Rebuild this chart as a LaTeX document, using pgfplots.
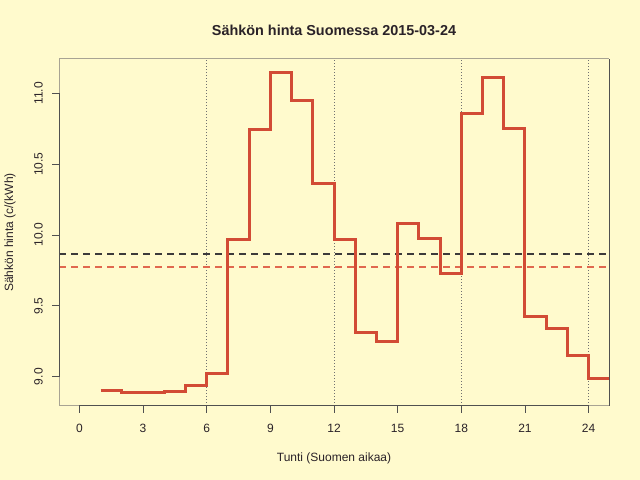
\documentclass[border=0pt]{standalone}
\usepackage{fontspec}
\setmainfont{Liberation Sans}
\usepackage{pgfplots}
\pgfplotsset{compat=1.18}
\definecolor{bg}{HTML}{FFFACD}
\definecolor{stepred}{HTML}{D24B35}
\definecolor{meanred}{HTML}{E0684F}
\definecolor{darkdash}{HTML}{3C3A3A}
\definecolor{axisdark}{HTML}{505050}
\definecolor{axislight}{HTML}{A8A393}
\definecolor{dotgray}{HTML}{707070}
\definecolor{txt}{HTML}{2A2228}
\begin{document}
\begin{tikzpicture}[x=1bp,y=1bp]
\fill[bg] (0,0) rectangle (640,480);
\useasboundingbox (0,0) rectangle (640,480);
\begin{axis}[
  at={(59bp,74bp)}, anchor=south west,
  width=550bp, height=347bp, scale only axis,
  xmin=-0.96, xmax=24.96, ymin=8.793, ymax=11.242,
  clip=false,
  axis line style={draw=none},
  xtick={0,3,6,9,12,15,18,21,24},
  xticklabels={0,3,6,9,12,15,18,21,24},
  ytick={9,9.5,10,10.5,11},
  yticklabels={9.0,9.5,10.0,10.5,11.0},
  tick pos=left, tick align=outside,
  major tick length=7bp,
  every tick/.style={axisdark, line width=0.8bp},
  /pgf/number format/assume math mode=true,
  tick label style={font=\fontsize{12bp}{14bp}\selectfont, text=txt},
  xticklabel style={anchor=north, inner sep=0pt, yshift=-11bp},
  yticklabel style={rotate=90, anchor=south, inner sep=0pt, yshift=9bp},
]
\addplot[dotgray, line width=0.8bp, dash pattern=on 1bp off 2bp] coordinates {(6,8.793) (6,11.242)};
\addplot[dotgray, line width=0.8bp, dash pattern=on 1bp off 2bp] coordinates {(12,8.793) (12,11.242)};
\addplot[dotgray, line width=0.8bp, dash pattern=on 1bp off 2bp] coordinates {(18,8.793) (18,11.242)};
\addplot[dotgray, line width=0.8bp, dash pattern=on 1bp off 2bp] coordinates {(24,8.793) (24,11.242)};
\addplot[darkdash, line width=2bp, dash pattern=on 7bp off 5bp] coordinates {(-0.96,9.866) (24.85,9.866)};
\addplot[meanred, line width=2bp, dash pattern=on 7bp off 5bp] coordinates {(-0.96,9.776) (24.85,9.776)};
\addplot[const plot, stepred, line width=3bp] coordinates {
(1,8.901) (2,8.885) (3,8.887) (4,8.896) (5,8.939) (6,9.024)
(7,9.970) (8,10.741) (9,11.150) (10,10.951) (11,10.365) (12,9.967)
(13,9.311) (14,9.245) (15,10.083) (16,9.974) (17,9.730) (18,10.854)
(19,11.113) (20,10.748) (21,9.424) (22,9.339) (23,9.151) (24,8.984)
(25,8.984)};
\draw[axislight, line width=1bp] (rel axis cs:0,1) -- (rel axis cs:1,1);
\draw[axislight, line width=1bp] (rel axis cs:0,0) -- (rel axis cs:0,1);
\draw[axislight, line width=1bp] (rel axis cs:0,0) -- (rel axis cs:1,0);
\draw[axisdark, line width=1bp] (rel axis cs:1,0) -- (rel axis cs:1,1);
\draw[axisdark, line width=1bp] (axis cs:-0.96,9) -- (axis cs:-0.96,11);
\draw[axisdark, line width=1bp] (axis cs:0,8.793) -- (axis cs:24,8.793);
\end{axis}
\node[text=txt, font=\bfseries\fontsize{14.4bp}{16bp}\selectfont] at (334,450) {Sähkön hinta Suomessa 2015-03-24};
\node[text=txt, font=\fontsize{12bp}{14bp}\selectfont] at (334,22) {Tunti (Suomen aikaa)};
\node[text=txt, rotate=90, font=\fontsize{12bp}{14bp}\selectfont] at (10,247.5) {Sähkön hinta (c/(kWh)};
\end{tikzpicture}
\end{document}
